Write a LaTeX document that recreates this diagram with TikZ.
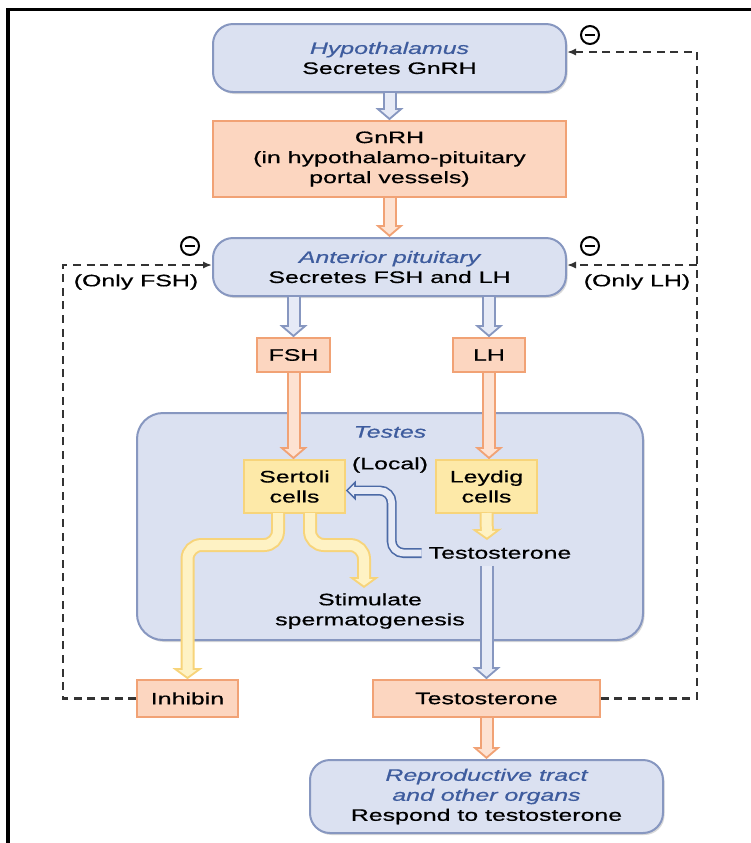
\documentclass[tikz,border=0pt]{standalone}
\usepackage{fontspec}
\setmainfont{Liberation Sans}[FakeStretch=1.5, FakeBold=0.6]
\usetikzlibrary{arrows.meta, shadows}

\definecolor{boxblue}{HTML}{DBE1F1}
\definecolor{lineblue}{HTML}{8797C0}
\definecolor{textblue}{HTML}{3E5C9E}
\definecolor{boxorange}{HTML}{FCD6C0}
\definecolor{lineorange}{HTML}{F1A275}
\definecolor{boxyellow}{HTML}{FDE9A8}
\definecolor{lineyellow}{HTML}{F7D47A}
\definecolor{pipeblue}{HTML}{E6EAF6}
\definecolor{pipeorange}{HTML}{FDE2D2}
\definecolor{pipeyellow}{HTML}{FEF2C4}
\definecolor{darkpipe}{HTML}{4C6AA6}
\definecolor{dashgray}{HTML}{333333}

\tikzset{
  organ/.style={draw=lineblue, line width=1pt, fill=boxblue, rounded corners=10pt, align=center,
    drop shadow={shadow xshift=0.8pt, shadow yshift=-1pt, opacity=0.3}},
  hormone/.style={draw=lineorange, line width=0.8pt, fill=boxorange, align=center, inner sep=1pt},
  cellbox/.style={draw=lineyellow, line width=0.8pt, fill=boxyellow, align=center, inner sep=1pt},
  pipe/.style 2 args={draw=#1, line width=7pt, -{Triangle[length=6pt, width=14pt, line width=0pt]},
    postaction={draw=#2, line width=5pt, shorten >=1.32pt, -{Triangle[length=3.68pt, width=8.6pt, line width=0pt]}}},
  slimpipe/.style={draw=lineyellow, line width=7pt, rounded corners=7pt, -{Triangle[length=5.5pt, width=15pt, line width=0pt]},
    postaction={draw=pipeyellow, line width=5pt, shorten >=1.24pt, -{Triangle[length=3.26pt, width=8.9pt, line width=0pt]}}},
  localpipe/.style={draw=darkpipe, line width=5pt, rounded corners=6pt, -{Triangle[length=5pt, width=10pt, line width=0pt]},
    postaction={draw=pipeblue, line width=3.4pt, shorten >=1.13pt, -{Triangle[length=3.07pt, width=6.1pt, line width=0pt]}}},
  feedback/.style={draw=dashgray, line width=1.2pt, dash pattern=on 4pt off 2.8pt, -{Latex[length=4.5pt, width=3.6pt]}},
  minus/.style={circle, draw, line width=1pt, minimum size=9pt, inner sep=0pt,
    path picture={\draw[line width=1pt] ([xshift=1.8pt]path picture bounding box.west) -- ([xshift=-1.8pt]path picture bounding box.east);}}
}

\begin{document}
\begin{tikzpicture}[x=0.5pt, y=-0.5pt, font=\fontsize{8.3}{10}\selectfont]
\useasboundingbox (0,0) rectangle (751,843);
\draw[line width=1.5pt] (8,843) -- (8,9) -- (751,9);

\node[organ, minimum width=176.5pt, minimum height=34pt] (hypo) at (389.5,58)
  {\textcolor{textblue}{\itshape Hypothalamus}\\Secretes GnRH};
\node[hormone, minimum width=176.5pt, minimum height=38pt] (gnrh) at (389.5,159)
  {GnRH\\(in hypothalamo-pituitary\\portal vessels)};
\node[organ, minimum width=176.5pt, minimum height=29pt] (pit) at (389.5,267)
  {\textcolor{textblue}{\itshape Anterior pituitary}\\Secretes FSH and LH};
\node[hormone, minimum width=36.5pt, minimum height=17pt] (fsh) at (293.5,355) {FSH};
\node[hormone, minimum width=36pt, minimum height=17pt] (lh) at (489,355) {LH};

\node[organ, minimum width=253pt, minimum height=113.5pt, rounded corners=13pt] (testes) at (390,526.5) {};
\node[textblue, font=\fontsize{8.3}{10}\selectfont\itshape] (testeslabel) at (390,432) {Testes};
\node[cellbox, minimum width=50.5pt, minimum height=26.5pt] (sertoli) at (294.5,486.5) {Sertoli\\cells};
\node[cellbox, minimum width=50.5pt, minimum height=26.5pt] (leydig) at (486.5,486.5) {Leydig\\cells};
\node (local) at (390,465) {(Local)};
\node (testo) at (500,553) {Testosterone};
\node[align=center] (stim) at (370,611) {Stimulate\\spermatogenesis};

\node[hormone, minimum width=50.5pt, minimum height=18.5pt] (inhibin) at (187.5,698.5) {Inhibin};
\node[hormone, minimum width=113.5pt, minimum height=18.5pt] (tbox) at (486.5,698.5) {Testosterone};
\node[organ, minimum width=176.5pt, minimum height=36.5pt] (repro) at (486.5,796.5)
  {\textcolor{textblue}{\itshape Reproductive tract}\\\textcolor{textblue}{\itshape and other organs}\\Respond to testosterone};

\node (onlyfsh) at (136,282) {(Only FSH)};
\node (onlylh) at (637,282) {(Only LH)};
\node[minus] (m1) at (590,35) {};
\node[minus] (m2) at (190,246) {};
\node[minus] (m3) at (590,246) {};

\coordinate (sl) at (278,513);
\coordinate (sr) at (310,513);
\coordinate (stimtip) at (364,588);
\coordinate (leyend) at (487,540);
\coordinate (rt) at (697,52);
\coordinate (rm) at (697,265);
\coordinate (lm) at (63,265);

\draw[pipe={lineblue}{pipeblue}] (hypo.south) -- (gnrh.north);
\draw[pipe={lineorange}{pipeorange}] (gnrh.south) -- (pit.north);
\draw[pipe={lineblue}{pipeblue}] (fsh.north |- pit.south) -- (fsh.north);
\draw[pipe={lineblue}{pipeblue}] (lh.north |- pit.south) -- (lh.north);
\draw[pipe={lineorange}{pipeorange}] (fsh.south) -- (fsh.south |- sertoli.north);
\draw[pipe={lineorange}{pipeorange}] (lh.south) -- (lh.south |- leydig.north);
\draw[slimpipe] (leydig.south |- sl) -- (leyend);
\draw[slimpipe] (sl) -- ++(0,32) -| (inhibin.north);
\draw[slimpipe] (sr) -- ++(0,32) -| (stimtip);
\draw[localpipe] (testo.west) -- ++(-30,0) |- ([yshift=-2pt]sertoli.east);
\draw[pipe={lineblue}{pipeblue}] (tbox.north |- testo.south) -- (tbox.north);
\draw[pipe={lineorange}{pipeorange}] (tbox.south) -- (repro.north);

\draw[feedback] (tbox.east) -| (rt) -- (rt -| hypo.east);
\draw[feedback] (rm) -- (rm -| pit.east);
\draw[feedback] (inhibin.west) -| (lm) -- (pit.west |- lm);
\end{tikzpicture}
\end{document}
